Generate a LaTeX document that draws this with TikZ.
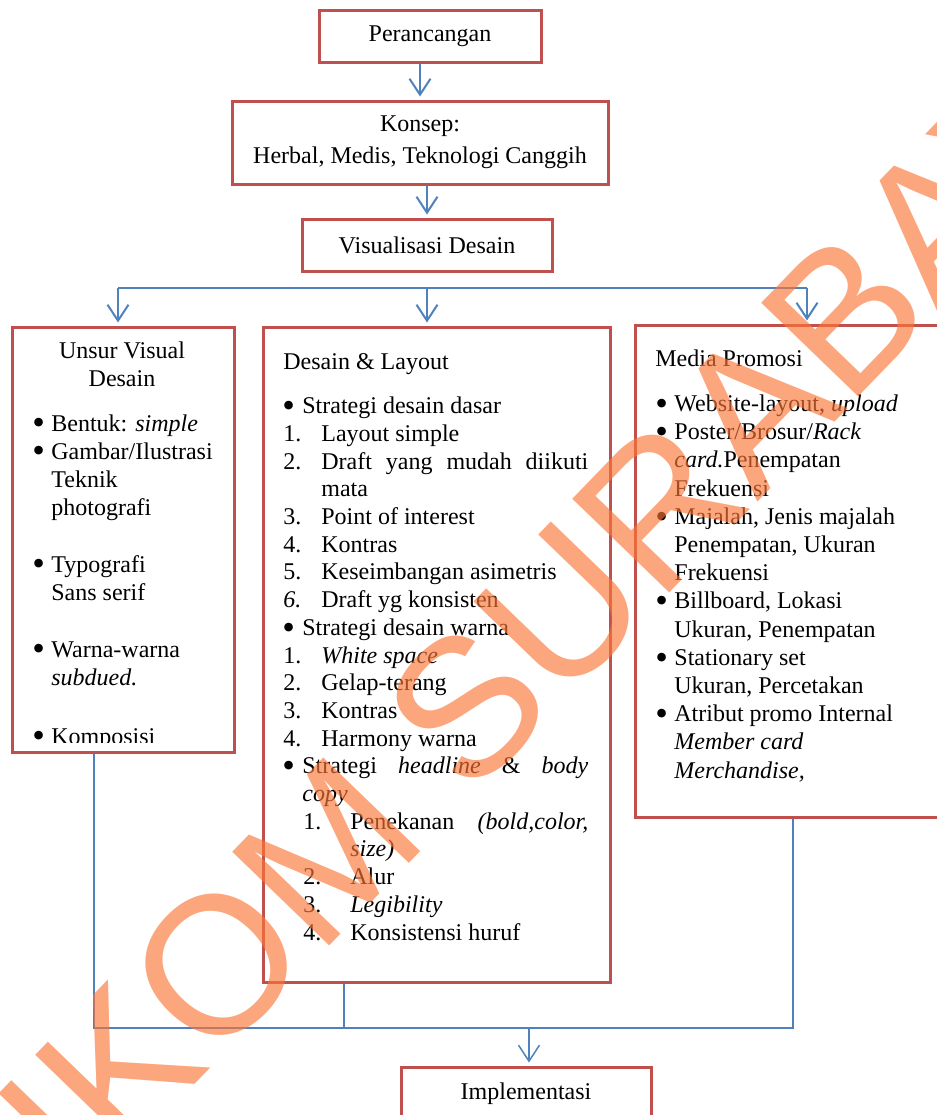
\documentclass[tikz,border=0pt]{standalone}
\usepackage{fontspec}
\setmainfont{Liberation Serif}
\newfontfamily\stampfont{Liberation Sans}
\usepackage{xcolor}
\usetikzlibrary{arrows.meta,positioning}
\definecolor{boxred}{HTML}{C0504D}
\definecolor{lineblue}{HTML}{4F81BD}
\definecolor{stamp}{RGB}{251,118,55}

\newcommand{\dotmark}{\raisebox{-1.9pt}{\scalebox{1.5}{\textbullet}}}
\newcommand{\bulw}[1]{\makebox[#1][l]{\dotmark}}
\newcommand{\num}[1]{\makebox[19pt][l]{#1}}
\newcommand{\subnum}[1]{\hspace*{10pt}\makebox[23.5pt][l]{#1}}

\begin{document}
\begin{tikzpicture}[x=0.5pt,y=-0.5pt,
    box/.style={draw=boxred, line width=1.5pt, rectangle, inner sep=0pt, align=center, font=\fontsize{12}{16}\selectfont},
    txt/.style={inner sep=0pt, align=left, anchor=base west},
    link/.style={draw=lineblue, line width=1pt},
    thinlink/.style={draw=lineblue, line width=0.75pt},
    arrow/.style={link, -{Straight Barb[length=8pt,width=10.5pt]}, shorten >=1.5pt}]
    \useasboundingbox (0,0) rectangle (937,1115);

    % boxes
    \node[box, minimum width=111pt, minimum height=26pt] (per) at (430,36) {Perancangan};
    \node[box, minimum width=188pt, minimum height=41.5pt] (kon) at (420,142.5) {Konsep:\\Herbal, Medis, Teknologi Canggih};
    \node[box, minimum width=125pt, minimum height=26pt] (vis) at (427,245) {Visualisasi Desain};
    \node[box, minimum width=111pt, minimum height=212.5pt] (unsur) at (123,539.5) {};
    \node[box, minimum width=173.5pt, minimum height=327.5pt] (desain) at (436.5,654.5) {};
    \node[box, minimum width=162.5pt, minimum height=246pt] (media) at (797.5,571) {};
    \node[box, minimum width=125pt, minimum height=27pt] (impl) at (526,1094) {Implementasi};

    % texts (anchored on the baseline of their last line)
    \node[txt, anchor=base, align=center, font=\fontsize{12}{14}\selectfont] (unsurT) at (122,386) {Unsur Visual\\Desain};
    \begin{scope}
      \clip (unsur.north west) rectangle ([yshift=5.75pt]unsur.south east);
      \node[txt, font=\fontsize{12}{14}\selectfont] (unsurL) at (32,744) {%
        \bulw{9.5pt}Bentuk: \textit{simple}\\
        \bulw{9.5pt}Gambar/Ilustrasi\\
        \hspace*{9.5pt}Teknik\\
        \hspace*{9.5pt}photografi\\[14.5pt]
        \bulw{9.5pt}Typografi\\
        \hspace*{9.5pt}Sans serif\\[14.5pt]
        \bulw{9.5pt}Warna-warna\\
        \hspace*{9.5pt}\textit{subdued.}\\[15.5pt]
        \bulw{9.5pt}Komposisi};
    \end{scope}

    \node[txt, font=\fontsize{12}{13.85}\selectfont] (desainL) at (283,940) {%
      Desain \& Layout\\[8.5pt]
      \hspace*{-0.5pt}\bulw{10pt}Strategi desain dasar\\
      \num{1.}Layout simple\\
      \num{2.}\makebox[133.5pt][s]{Draft yang mudah diikuti}\\
      \hspace*{19pt}mata\\
      \num{3.}Point of interest\\
      \num{4.}Kontras\\
      \num{5.}Keseimbangan asimetris\\
      \num{\textit{6.}}Draft yg konsisten\\
      \hspace*{-0.5pt}\bulw{10pt}Strategi desain warna\\
      \num{1.}\textit{White space}\\
      \num{2.}Gelap-terang\\
      \num{3.}Kontras\\
      \num{4.}Harmony warna\\
      \hspace*{-0.5pt}\bulw{10pt}\makebox[143pt][s]{Strategi \textit{headline} \& \textit{body}}\\
      \hspace*{9.5pt}\textit{copy}\\
      \subnum{1.}\makebox[119pt][s]{Penekanan \textit{(bold,color,}}\\
      \hspace*{33.5pt}\textit{size)}\\
      \subnum{2.}Alur\\
      \subnum{3.}\textit{Legibility}\\
      \subnum{4.}Konsistensi huruf};

    \node[txt, font=\fontsize{12}{14.1}\selectfont] (mediaL) at (655,778) {%
      Media Promosi\\[8.5pt]
      \bulw{9.5pt}Website-layout, \textit{upload}\\
      \bulw{9.5pt}Poster/Brosur/\textit{Rack}\\
      \hspace*{9.5pt}\textit{card.}Penempatan\\
      \hspace*{9.5pt}Frekuensi\\
      \bulw{9.5pt}Majalah, Jenis majalah\\
      \hspace*{9.5pt}Penempatan, Ukuran\\
      \hspace*{9.5pt}Frekuensi\\
      \bulw{9.5pt}Billboard, Lokasi\\
      \hspace*{9.5pt}Ukuran, Penempatan\\
      \bulw{9.5pt}Stationary set\\
      \hspace*{9.5pt}Ukuran, Percetakan\\
      \bulw{9.5pt}Atribut promo Internal\\
      \hspace*{9.5pt}\textit{Member card}\\
      \hspace*{9.5pt}\textit{Merchandise,}};

    % connectors
    \coordinate (sL) at (118,288);
    \coordinate (sR) at (807,288);
    \coordinate (mL) at (94,1028);
    \coordinate (mM) at (344,1028);
    \coordinate (mR) at (793,1028);
    \coordinate (mI) at (529,1028);

    \draw[arrow] (kon.north |- per.south) -- (kon.north);
    \draw[arrow] (vis.north |- kon.south) -- (vis.north);
    \draw[link] (sL) -- (sR);
    \draw[arrow] (sL) -- (sL |- unsur.north);
    \draw[arrow] (vis.south |- sL) -- (vis.south |- desain.north);
    \draw[arrow] (sR) -- (sR |- media.north);

    \draw[thinlink] (unsur.south -| mL) -- (mL) -- (mR) -- (media.south -| mR);
    \draw[thinlink] (desain.south -| mM) -- (mM);
    \draw[arrow, line width=0.75pt] (mI) -- (mI |- impl.north);

    % watermark
    \node[inner sep=0pt, rotate=46, text=stamp, text opacity=0.65,
          font=\stampfont\fontsize{98}{100}\selectfont] (wm) at (502,670) {STIKOM SURABAYA};
\end{tikzpicture}
\end{document}
